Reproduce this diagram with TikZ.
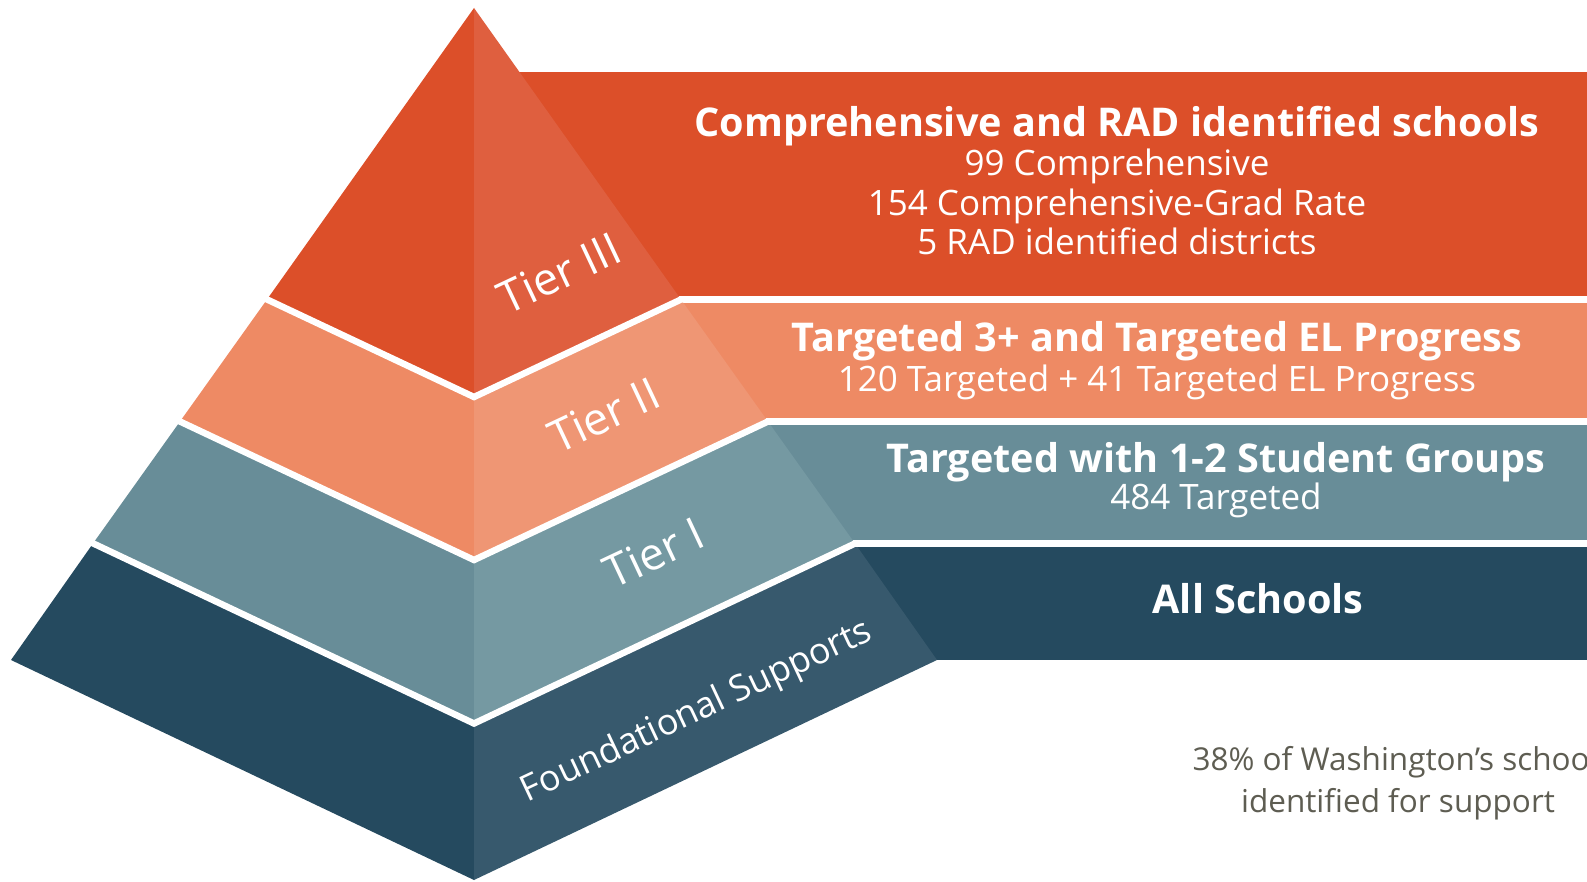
\documentclass[tikz,border=0pt]{standalone}
\usepackage{fontspec}
\setmainfont{Open Sans}
\usepackage{tikz}
\definecolor{tierthree}{HTML}{DC4F29}
\definecolor{tierthreelt}{HTML}{DF5F3F}
\definecolor{tiertwo}{HTML}{EE8A64}
\definecolor{tiertwolt}{HTML}{EF9674}
\definecolor{tierone}{HTML}{688D98}
\definecolor{tieronelt}{HTML}{7599A2}
\definecolor{found}{HTML}{254A5F}
\definecolor{foundlt}{HTML}{37596D}
\definecolor{notegray}{HTML}{5E5D52}

\begin{document}
\begin{tikzpicture}[x=1pt, y=-1pt,
    head/.style={anchor=base, text=white, font=\fontsize{39.6}{47}\selectfont\bfseries},
    body/.style={anchor=base, text=white, font=\fontsize{35}{42}\selectfont},
    tier/.style={rotate=25.2, text=white, font=\fontsize{45}{54}\selectfont},
    note/.style={text=notegray, font=\fontsize{31.5}{38}\selectfont}]
    \useasboundingbox (0,0) rectangle (1587,882);
    \fill[tierthree] (474,72) rectangle (1587,296);
    \fill[tiertwo] (474,303) rectangle (1587,418);
    \fill[tierone] (474,425) rectangle (1587,540);
    \fill[found] (474,547) rectangle (1587,660);
    \fill[tierthree] (474,8) -- (267,299.5) -- (474,397) -- cycle;
    \fill[tierthreelt] (474,8) -- (681,299.5) -- (474,397) -- cycle;
    \fill[tiertwo] (267,299.5) -- (180,421.5) -- (474,560) -- (474,397) -- cycle;
    \fill[tiertwolt] (681,299.5) -- (768,421.5) -- (474,560) -- (474,397) -- cycle;
    \fill[tierone] (180,421.5) -- (93,543.5) -- (474,723.5) -- (474,560) -- cycle;
    \fill[tieronelt] (768,421.5) -- (855,543.5) -- (474,723.5) -- (474,560) -- cycle;
    \fill[found] (93,543.5) -- (11,660) -- (474,880) -- (474,723.5) -- cycle;
    \fill[foundlt] (855,543.5) -- (937,660) -- (474,880) -- (474,723.5) -- cycle;
    \draw[white, line width=6.5] (230,282) -- (474,397) -- (681,299.5) -- (1600,299.5);
    \draw[white, line width=6.5] (140,402.7) -- (474,560) -- (768,421.5) -- (1600,421.5);
    \draw[white, line width=6.5] (50,523) -- (474,723.5) -- (855,543.5) -- (1600,543.5);
    \node[tier] (tierthreelabel) at (559,273) {Tier III};
    \node[tier] (tiertwolabel) at (604,415) {Tier II};
    \node[tier] (tieronelabel) at (654,553) {Tier I};
    \node[tier, font=\fontsize{36}{43}\selectfont] (foundlabel) at (697,712) {Foundational Supports};
    \node[head] (compname) at (1117,137) {Comprehensive and RAD identified schools};
    \node[body] (compnum) at (1117,176) {99 Comprehensive};
    \node[body] (gradnum) at (1117,216) {154 Comprehensive-Grad Rate};
    \node[body] (radnum) at (1117,255) {5 RAD identified districts};
    \node[head] (targname) at (1157,352) {Targeted 3+ and Targeted EL Progress};
    \node[body] (targnum) at (1157,391) {120 Targeted + 41 Targeted EL Progress};
    \node[head] (groupname) at (1216,472) {Targeted with 1-2 Student Groups};
    \node[body] (groupnum) at (1216,509) {484 Targeted};
    \node[head] (allname) at (1258,613) {All Schools};
    \node[note, anchor=base west] (noteline) at (1189,770) {38\% of Washington’s schoo};
    \node[note, anchor=base] (notesub) at (1398,812) {identified for support};
\end{tikzpicture}
\end{document}
